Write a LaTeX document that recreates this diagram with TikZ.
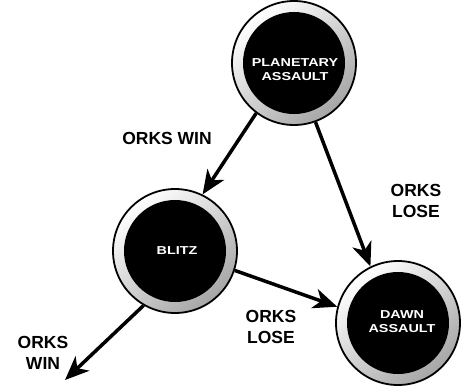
\documentclass[tikz,border=0pt]{standalone}
\usepackage{fontspec}
\setmainfont{Liberation Sans}
\newfontfamily\widefont{Liberation Sans}[FakeStretch=1.25]
\usetikzlibrary{arrows.meta}
\begin{document}
\begin{tikzpicture}[x=1pt,y=-1pt,
  ring/.style={circle, minimum size=124pt, inner sep=0pt, draw=black, line width=1.8pt,
    top color=white, bottom color=gray!70, shading angle=40,
    path picture={\fill[black] (path picture bounding box.center) circle (51pt);}},
  intext/.style={text=white, font=\widefont\bfseries\fontsize{11.5}{14}\selectfont, align=center, inner sep=0pt},
  lbl/.style={font=\bfseries\fontsize{17.5}{21}\selectfont, align=center, inner sep=0pt},
  conn/.style={line width=3.5pt, -{Stealth[length=24pt,width=20pt,inset=7pt]}}
]
\useasboundingbox (0,0) rectangle (464,389);
\node[ring] (pa) at (294,63) {};
\node[ring] (bl) at (175,251) {};
\node[ring] (da) at (398,323) {};
\node[intext] (pat) at (295,70) {PLANETARY\\ASSAULT};
\node[intext] (blt) at (177,251) {BLITZ};
\node[intext] (dat) at (402,322) {DAWN\\ASSAULT};
\node[lbl] (l1) at (167,138) {ORKS WIN};
\node[lbl] (l2) at (416,201) {ORKS\\LOSE};
\node[lbl] (l3) at (271,327) {ORKS\\LOSE};
\node[lbl] (l4) at (43,353) {ORKS\\WIN};
\coordinate (out) at (65,380);
\draw[conn] (pa.233) -- (bl.64);
\draw[conn] (pa.290) -- (da.116);
\draw[conn] (bl.-18) -- (da.165);
\draw[conn] (bl.240) -- (out);
\end{tikzpicture}
\end{document}
